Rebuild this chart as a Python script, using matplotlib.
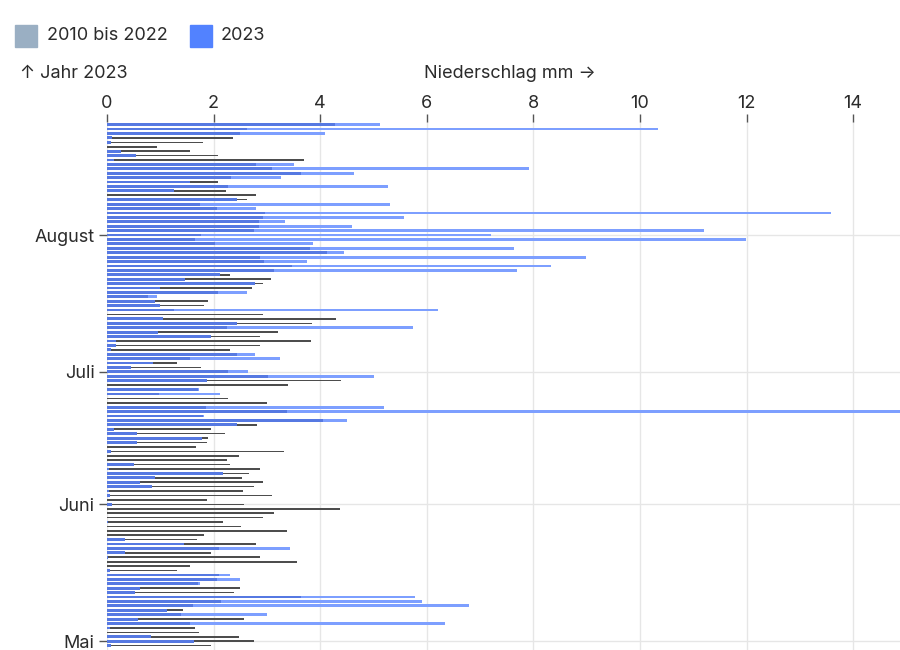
import numpy as np
import pandas as pd
import matplotlib
matplotlib.use("Agg")
import matplotlib.pyplot as plt
import matplotlib.dates as mdates
from matplotlib.patches import Rectangle

plt.rcParams['font.family'] = ['Inter', 'DejaVu Sans']

# ==========================================
# Daily precipitation (mm), 30 April .. 26 August
# ==========================================
start_date = "2023-04-30"

# 2010 bis 2022 (mean per day)
rain_ref = [
    1.96,  # 30 Apr
    # Mai
    2.76, 2.48, 1.72, 1.65, 1.55, 2.58, 1.39, 1.43, 1.62, 2.14,
    3.64, 2.39, 2.50, 1.70, 2.06, 2.11, 1.31, 1.55, 3.56, 2.87,
    1.96, 2.11, 2.80, 1.68, 1.82, 3.38, 2.51, 2.18, 2.92, 3.13, 4.38,
    # Juni
    2.58, 1.87, 3.10, 2.56, 2.76, 2.92, 2.54, 2.66, 2.87, 2.30,
    2.25, 2.48, 3.33, 1.67, 1.88, 1.89, 2.21, 1.95, 2.81, 4.06,
    1.80, 3.38, 1.86, 3.00, 2.27, 0.98, 1.70, 3.40, 4.39, 3.03,
    # Juli
    2.27, 1.76, 1.31, 1.55, 2.44, 2.30, 2.87, 3.82, 2.87, 3.20,
    2.25, 3.84, 4.29, 2.92, 1.26, 1.82, 1.89, 0.76, 2.09, 2.72,
    2.92, 3.07, 2.30, 3.13, 3.47, 2.94, 2.88, 4.13, 3.80, 2.02, 1.66,
    # August
    1.77, 2.76, 2.86, 2.86, 2.92, 2.96, 2.06, 1.74, 2.63, 2.80,
    2.24, 2.27, 2.09, 2.33, 3.64, 3.10, 2.79, 3.70, 2.08, 1.56,
    0.94, 1.81, 2.36, 2.49, 2.63, 4.28,
]

# 2023
rain_2023 = [
    0.07,  # 30 Apr
    # Mai
    1.63, 0.83, 0.00, 0.05, 6.34, 0.59, 3.01, 1.12, 6.80, 5.91,
    5.77, 0.52, 0.61, 1.74, 2.50, 2.31, 0.05, 0.00, 0.00, 0.02,
    0.33, 3.44, 1.44, 0.33, 0.00, 0.00, 0.00, 0.02, 0.00, 0.00, 0.00,
    # Juni
    0.09, 0.00, 0.05, 0.04, 0.85, 0.62, 0.91, 2.17, 0.04, 0.50,
    0.00, 0.00, 0.07, 0.00, 0.56, 1.79, 0.57, 0.13, 2.44, 4.50,
    1.82, 16.0, 5.19, 0.00, 0.00, 2.12, 1.72, 0.00, 1.87, 5.01,
    # Juli
    2.64, 0.45, 0.86, 3.24, 2.78, 0.07, 0.16, 0.16, 1.96, 0.96,
    5.74, 2.44, 1.05, 0.00, 6.22, 1.00, 0.91, 0.93, 2.62, 1.00,
    2.78, 1.47, 2.12, 7.70, 8.34, 3.75, 8.99, 4.45, 7.64, 3.87, 11.99,
    # August
    7.21, 11.20, 4.60, 3.34, 5.58, 13.58, 2.79, 5.31, 2.44, 0.00,
    1.26, 5.28, 1.56, 3.27, 4.63, 7.91, 3.51, 0.13, 0.55, 0.26,
    0.00, 0.07, 0.09, 4.09, 10.33, 5.12,
]

month_ticks = ["2023-05-01", "2023-06-01", "2023-07-01", "2023-08-01"]
month_labels = ["Mai", "Juni", "Juli", "August"]
x_ticks = [0, 2, 4, 6, 8, 10, 12, 14]

# ==========================================
# Plot
# ==========================================
W, H = 900, 650
fig = plt.figure(figsize=(W / 100, H / 100), dpi=100)
ax = fig.add_axes([107 / W, 0, (W - 107) / W, 528 / H])

dates = pd.date_range(start_date, periods=len(rain_2023), freq="D")
y = mdates.date2num(dates)
ref = np.array(rain_ref)
cur = np.array(rain_2023)
overlap = np.minimum(ref, cur)

ax.barh(y, ref, height=0.36, color="#4d4d4d", zorder=2)
ax.barh(y, cur, height=0.64, color="#7d9fff", zorder=3)
ax.barh(y, overlap, height=0.64, color="#5679e2", zorder=4)

text_col = "#2b2b2b"
tick_col = "#555555"
fs = 13

ax.set_xlim(0, 14.88)
ax.set_ylim(y[0] - 1.0, y[-1] + 0.6)

ax.xaxis.tick_top()
ax.set_xticks(x_ticks)
ax.set_xticklabels([str(t) for t in x_ticks])
ax.set_yticks(mdates.date2num(pd.to_datetime(month_ticks)))
ax.set_yticklabels(month_labels, va="center_baseline")
ax.tick_params(axis="x", length=6, width=1, color=tick_col, labelsize=fs,
               labelcolor=text_col, pad=1.5)
ax.tick_params(axis="y", length=6, width=1, color=tick_col, labelsize=fs,
               labelcolor=text_col, pad=3)
ax.grid(True, color="#e6e6e6", linewidth=1, zorder=0)
ax.set_axisbelow(True)
for s in ax.spines.values():
    s.set_visible(False)


def px(x, yy):
    return x / W, 1 - yy / H


# legend
fig.patches.append(Rectangle(px(15, 47), 22 / W, 22 / H, transform=fig.transFigure,
                             color="#9aafc3"))
fig.text(*px(47, 36), "2010 bis 2022", fontsize=fs, color=text_col, va="center")
fig.patches.append(Rectangle(px(190, 47), 22 / W, 22 / H, transform=fig.transFigure,
                             color="#5282ff"))
fig.text(*px(221, 36), "2023", fontsize=fs, color=text_col, va="center")

# axis titles
fig.text(*px(20, 74), "↑ Jahr 2023", fontsize=fs, color=text_col, va="center")
fig.text(*px(510, 74), "Niederschlag mm →", fontsize=fs, color=text_col,
         va="center", ha="center")

fig.savefig("out.png", dpi=100)
